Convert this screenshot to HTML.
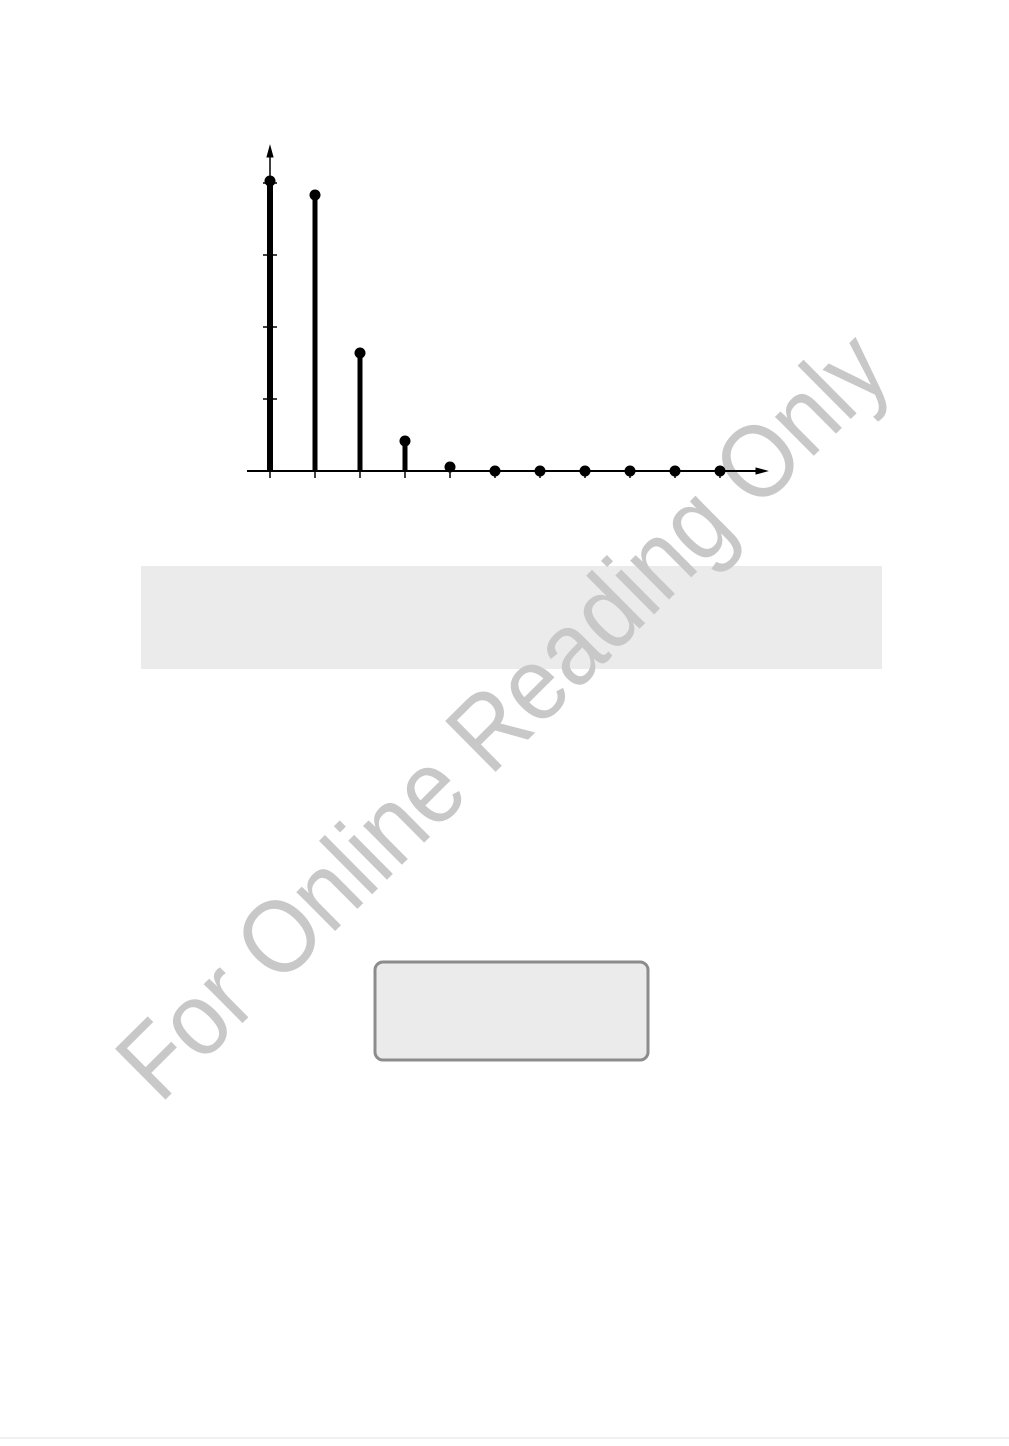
<!DOCTYPE html>
<html><head><style>html,body{margin:0;padding:0;background:#fff}</style></head>
<body>
<svg width="1009" height="1441" viewBox="0 0 1009 1441" xmlns="http://www.w3.org/2000/svg">
<rect x="141" y="566" width="741" height="103" fill="#ebebeb"/>
<rect x="375" y="962" width="273" height="98" rx="8" fill="#ebebeb" stroke="#8c8c8c" stroke-width="3"/>
<text x="0" y="0" transform="translate(160,1105) rotate(-44.8)" font-family="Liberation Sans, sans-serif" font-size="104" fill="#c8c8c8" textLength="1035" lengthAdjust="spacingAndGlyphs">For Online Reading Only</text>
<g stroke="#000" fill="#000">
<line x1="270" y1="152" x2="270" y2="471" stroke-width="1.5"/>
<polygon points="270,146 267,157 273,157"/>
<line x1="247" y1="471" x2="762" y2="471" stroke-width="2"/>
<polygon points="767,471 756,468 756,474"/>
<g stroke-width="1.5">
<line x1="263" y1="183" x2="277" y2="183"/><line x1="263" y1="255" x2="277" y2="255"/>
<line x1="263" y1="327" x2="277" y2="327"/><line x1="263" y1="399" x2="277" y2="399"/>
<line x1="270" y1="471" x2="270" y2="478"/><line x1="315" y1="471" x2="315" y2="478"/>
<line x1="360" y1="471" x2="360" y2="478"/><line x1="405" y1="471" x2="405" y2="478"/>
<line x1="450" y1="471" x2="450" y2="478"/><line x1="495" y1="471" x2="495" y2="478"/>
<line x1="540" y1="471" x2="540" y2="478"/><line x1="585" y1="471" x2="585" y2="478"/>
<line x1="630" y1="471" x2="630" y2="478"/><line x1="675" y1="471" x2="675" y2="478"/>
<line x1="720" y1="471" x2="720" y2="478"/>
</g>
<g stroke-width="5">
<line x1="270" y1="181" x2="270" y2="471" stroke-width="6"/>
<line x1="315" y1="195" x2="315" y2="471"/>
<line x1="360" y1="353" x2="360" y2="471"/>
<line x1="405" y1="441" x2="405" y2="471"/>
<line x1="450" y1="467" x2="450" y2="471"/>
</g>
<g stroke="none">
<circle cx="270" cy="181" r="5.5"/><circle cx="315" cy="195" r="5.5"/>
<circle cx="360" cy="353" r="5.5"/><circle cx="405" cy="441" r="5.5"/>
<circle cx="450" cy="467" r="5.5"/><circle cx="495" cy="471" r="5.5"/>
<circle cx="540" cy="471" r="5.5"/><circle cx="585" cy="471" r="5.5"/>
<circle cx="630" cy="471" r="5.5"/><circle cx="675" cy="471" r="5.5"/>
<circle cx="720" cy="471" r="5.5"/>
</g>
</g>
<line x1="0" y1="1438" x2="1009" y2="1438" stroke="#e0e0e0" stroke-width="1"/>
</svg>
</body></html>
